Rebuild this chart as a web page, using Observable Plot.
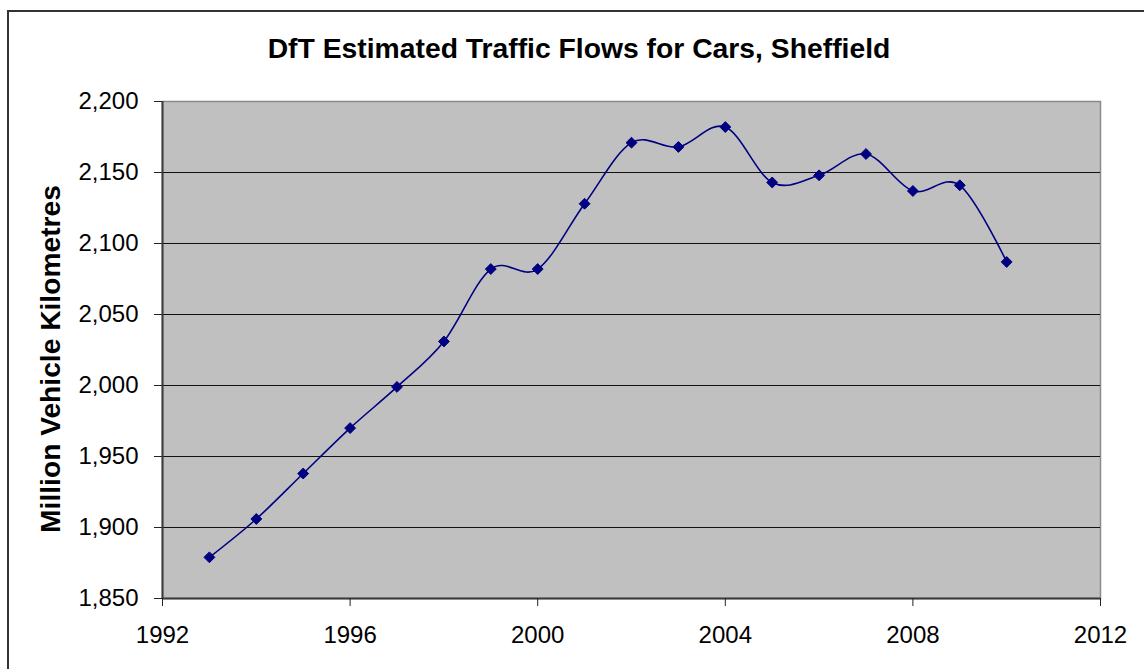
<!DOCTYPE html>
<html>
<head>
<meta charset="utf-8">
<script src="https://cdn.jsdelivr.net/npm/d3@7"></script>
<script src="https://cdn.jsdelivr.net/npm/@observablehq/plot@0.6"></script>
<style>
  html, body { margin: 0; padding: 0; background: #fff; }
  #wrap { position: relative; width: 1144px; height: 669px; overflow: hidden; font-family: "Liberation Sans", Arial, sans-serif; }
  #border { position: absolute; left: 7px; top: 10px; width: 1160px; height: 700px; border: 2px solid #333; box-sizing: border-box; }
  #title { position: relative; height: 70px; box-sizing: border-box; padding-top: 35px; padding-left: 14px; line-height: 27px; font-size: 28.3px; font-weight: bold; text-align: center; color: #000; }
  #chart { position: relative; }
</style>
</head>
<body>
<div id="wrap">
  <div id="border"></div>
  <div id="title">DfT Estimated Traffic Flows for Cars, Sheffield</div>
  <div id="chart"></div>
</div>
<script>
const years = [1993, 1994, 1995, 1996, 1997, 1998, 1999, 2000, 2001, 2002, 2003, 2004, 2005, 2006, 2007, 2008, 2009, 2010];
const flows = [1879, 1906, 1938, 1970, 1999, 2031, 2082, 2082, 2128, 2171, 2168, 2182, 2143, 2148, 2163, 2137, 2141, 2087];
const xTicks = [1992, 1996, 2000, 2004, 2008, 2012];
const yTicks = [1850, 1900, 1950, 2000, 2050, 2100, 2150, 2200];
const gridValues = [1900, 1950, 2000, 2050, 2100, 2150];
const yLabel = "Million Vehicle Kilometres";

const data = years.map((y, i) => ({year: y, value: flows[i]}));

const chart = Plot.plot({
  width: 1144,
  height: 598,
  marginLeft: 162,
  marginRight: 44,
  marginTop: 31,
  marginBottom: 70,
  style: {fontFamily: "'Liberation Sans', Arial, sans-serif", fontSize: "24px", color: "#000", background: "transparent", overflow: "visible"},
  x: {domain: [1992, 2012]},
  y: {domain: [1850, 2200]},
  marks: [
    Plot.frame({fill: "#c0c0c0", stroke: "#8a8a8a", strokeWidth: 1.5}),
    Plot.ruleY(gridValues, {stroke: "#111", strokeWidth: 1.2}),
    Plot.ruleX([1992], {stroke: "#3a3a3a", strokeWidth: 2}),
    Plot.ruleY([1850], {stroke: "#3a3a3a", strokeWidth: 2}),
    Plot.axisX({ticks: xTicks, tickFormat: d => String(d), tickSize: 8, tickPadding: 19, label: null, stroke: "#222", fontSize: 24}),
    Plot.axisY({ticks: yTicks, tickFormat: d3.format(","), tickSize: 8, tickPadding: 16, label: null, stroke: "#222", fontSize: 24}),
    Plot.text([yLabel], {frameAnchor: "left", textAnchor: "middle", dx: -112, dy: 9, rotate: -90, text: d => d, fontSize: 28.2, fontWeight: "bold", fill: "#000"}),
    Plot.line(data, {x: "year", y: "value", stroke: "#000080", strokeWidth: 1.6, curve: "cardinal"}),
    Plot.dot(data, {x: "year", y: "value", symbol: "diamond2", r: 4.9, fill: "#000080", stroke: "#000080", strokeWidth: 1})
  ]
});
document.getElementById("chart").appendChild(chart);
</script>
</body>
</html>
